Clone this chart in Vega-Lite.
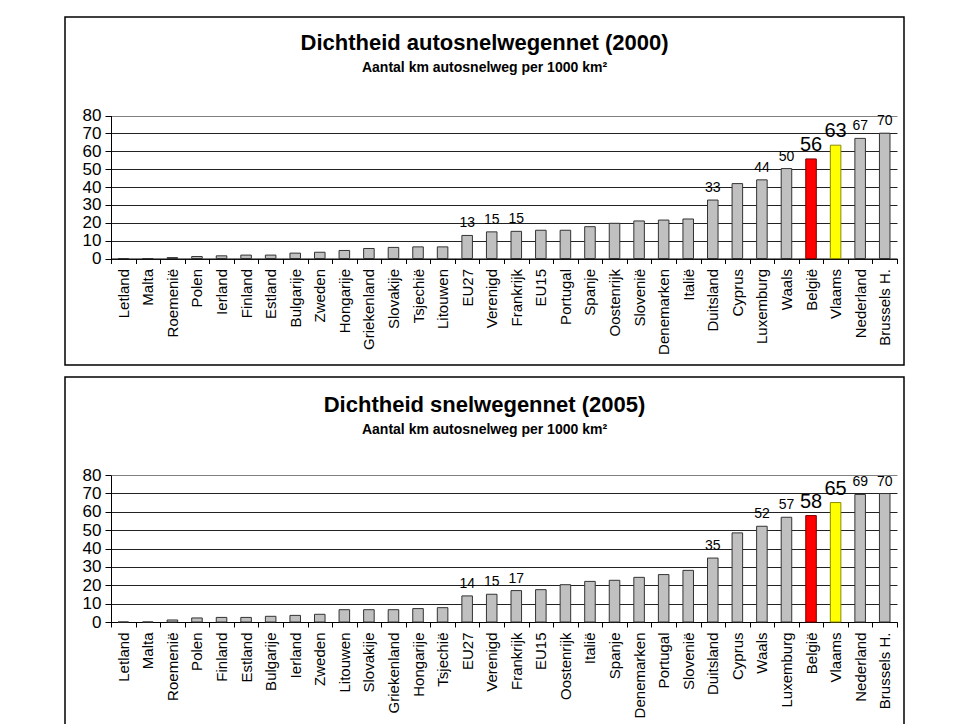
{
  "$schema": "https://vega.github.io/schema/vega-lite/v6.json",
  "padding": {"left": 57, "top": 16, "right": 58, "bottom": 0},
  "background": "white",
  "spacing": 10,
  "config": {
    "font": "Liberation Sans",
    "view": {"stroke": "#000", "strokeWidth": 1.5},
    "axis": {"labelColor": "#000", "domainColor": "#000", "tickColor": "#000", "title": null, "labelOverlap": false},
    "title": {"color": "#000", "subtitleColor": "#000", "fontWeight": "bold", "subtitleFontWeight": "bold", "fontSize": 22, "subtitleFontSize": 14, "anchor": "middle", "frame": "group", "subtitlePadding": 6}
  },
  "datasets": {
    "d2000": [
      {"land": "Letland", "waarde": 0, "annotated": false},
      {"land": "Malta", "waarde": 0, "annotated": false},
      {"land": "Roemenië", "waarde": 0.5, "annotated": false},
      {"land": "Polen", "waarde": 1.1, "annotated": false},
      {"land": "Ierland", "waarde": 1.5, "annotated": false},
      {"land": "Finland", "waarde": 1.9, "annotated": false},
      {"land": "Estland", "waarde": 1.9, "annotated": false},
      {"land": "Bulgarije", "waarde": 3.0, "annotated": false},
      {"land": "Zweden", "waarde": 3.5, "annotated": false},
      {"land": "Hongarije", "waarde": 4.5, "annotated": false},
      {"land": "Griekenland", "waarde": 5.6, "annotated": false},
      {"land": "Slovakije", "waarde": 6.2, "annotated": false},
      {"land": "Tsjechië", "waarde": 6.5, "annotated": false},
      {"land": "Litouwen", "waarde": 6.5, "annotated": false},
      {"land": "EU27", "waarde": 12.9, "annotated": true},
      {"land": "Verenigd", "waarde": 14.9, "annotated": true},
      {"land": "Frankrijk", "waarde": 15.2, "annotated": true},
      {"land": "EU15", "waarde": 15.8, "annotated": false},
      {"land": "Portugal", "waarde": 15.8, "annotated": false},
      {"land": "Spanje", "waarde": 17.8, "annotated": false},
      {"land": "Oostenrijk", "waarde": 19.7, "annotated": false},
      {"land": "Slovenië", "waarde": 21.0, "annotated": false},
      {"land": "Denemarken", "waarde": 21.5, "annotated": false},
      {"land": "Italië", "waarde": 22.1, "annotated": false},
      {"land": "Duitsland", "waarde": 32.7, "annotated": true},
      {"land": "Cyprus", "waarde": 41.9, "annotated": false},
      {"land": "Luxemburg", "waarde": 44.0, "annotated": true},
      {"land": "Waals", "waarde": 50.3, "annotated": true},
      {"land": "België", "waarde": 55.7, "annotated": true},
      {"land": "Vlaams", "waarde": 63.4, "annotated": true},
      {"land": "Nederland", "waarde": 67.2, "annotated": true},
      {"land": "Brussels H.", "waarde": 70.1, "annotated": true}
    ],
    "d2005": [
      {"land": "Letland", "waarde": 0, "annotated": false},
      {"land": "Malta", "waarde": 0, "annotated": false},
      {"land": "Roemenië", "waarde": 1.1, "annotated": false},
      {"land": "Polen", "waarde": 2.2, "annotated": false},
      {"land": "Finland", "waarde": 2.5, "annotated": false},
      {"land": "Estland", "waarde": 2.5, "annotated": false},
      {"land": "Bulgarije", "waarde": 3.1, "annotated": false},
      {"land": "Ierland", "waarde": 3.6, "annotated": false},
      {"land": "Zweden", "waarde": 4.2, "annotated": false},
      {"land": "Litouwen", "waarde": 6.7, "annotated": false},
      {"land": "Slovakije", "waarde": 6.7, "annotated": false},
      {"land": "Griekenland", "waarde": 6.7, "annotated": false},
      {"land": "Hongarije", "waarde": 7.3, "annotated": false},
      {"land": "Tsjechië", "waarde": 7.8, "annotated": false},
      {"land": "EU27", "waarde": 14.2, "annotated": true},
      {"land": "Verenigd", "waarde": 15.1, "annotated": true},
      {"land": "Frankrijk", "waarde": 17.1, "annotated": true},
      {"land": "EU15", "waarde": 17.6, "annotated": false},
      {"land": "Oostenrijk", "waarde": 20.3, "annotated": false},
      {"land": "Italië", "waarde": 22.1, "annotated": false},
      {"land": "Spanje", "waarde": 22.7, "annotated": false},
      {"land": "Denemarken", "waarde": 24.3, "annotated": false},
      {"land": "Portugal", "waarde": 25.8, "annotated": false},
      {"land": "Slovenië", "waarde": 28.1, "annotated": false},
      {"land": "Duitsland", "waarde": 34.8, "annotated": true},
      {"land": "Cyprus", "waarde": 48.5, "annotated": false},
      {"land": "Waals", "waarde": 52.1, "annotated": true},
      {"land": "Luxemburg", "waarde": 57.0, "annotated": true},
      {"land": "België", "waarde": 57.9, "annotated": true},
      {"land": "Vlaams", "waarde": 65.0, "annotated": true},
      {"land": "Nederland", "waarde": 69.4, "annotated": true},
      {"land": "Brussels H.", "waarde": 69.9, "annotated": true}
    ]
  },
  "vconcat": [
    {
      "width": 839,
      "height": 348,
      "title": {"text": "Dichtheid autosnelwegennet (2000)", "subtitle": "Aantal km autosnelweg per 1000 km²", "offset": -59},
      "data": {"name": "d2000"},
      "encoding": {
        "x": {"field": "land", "type": "nominal", "sort": null,
          "scale": {"range": [46, 832], "paddingInner": 0, "paddingOuter": 0},
          "axis": {"orient": "bottom", "offset": -106.5, "labelAngle": 270, "labelFontSize": 15, "labelPadding": 5, "tickSize": 5, "tickBand": "extent", "labelLimit": 0, "grid": false}},
        "y": {"field": "waarde", "type": "quantitative",
          "scale": {"domain": [0, 80], "range": [241.5, 98.5]},
          "axis": {"orient": "left", "offset": -46, "values": [0, 10, 20, 30, 40, 50, 60, 70, 80], "labelFontSize": 17, "labelPadding": 4, "tickSize": 6, "grid": true, "gridOpacity": 1, "gridColor": {"condition": {"test": "datum.value === 80", "value": "#808080"}, "value": "#222"}}}
      },
      "layer": [
        {
          "mark": {"type": "bar", "width": {"band": 0.43}, "strokeWidth": 1},
          "encoding": {
            "fill": {"condition": [{"test": "datum.land === 'België'", "value": "#ff0000"}, {"test": "datum.land === 'Vlaams'", "value": "#ffff00"}], "value": "#c0c0c0"},
            "stroke": {"condition": [{"test": "datum.land === 'België'", "value": "#7a0000"}, {"test": "datum.land === 'Vlaams'", "value": "#8a8a00"}], "value": "#333"}
          }
        },
        {
          "transform": [{"filter": "datum.annotated"}],
          "mark": {"type": "text", "baseline": "alphabetic", "dy": -8, "color": "#000"},
          "encoding": {
            "text": {"field": "waarde", "type": "quantitative", "format": ".0f"},
            "size": {"condition": {"test": "datum.land === 'België' || datum.land === 'Vlaams'", "value": 20}, "value": 14}
          }
        },
        {
          "data": {"values": [{"land": "Brussels H."}]},
          "mark": {"type": "rule", "color": "#808080"},
          "encoding": {
            "x": {"field": "land", "type": "nominal", "bandPosition": 1},
            "y": {"datum": 0},
            "y2": {"datum": 80}
          }
        }
      ]
    },
    {
      "width": 839,
      "height": 352,
      "title": {"text": "Dichtheid snelwegennet (2005)", "subtitle": "Aantal km autosnelweg per 1000 km²", "offset": -61},
      "data": {"name": "d2005"},
      "encoding": {
        "x": {"field": "land", "type": "nominal", "sort": null,
          "scale": {"range": [46, 832], "paddingInner": 0, "paddingOuter": 0},
          "axis": {"orient": "bottom", "offset": -107, "labelAngle": 270, "labelFontSize": 15, "labelPadding": 5, "tickSize": 5, "tickBand": "extent", "labelLimit": 0, "grid": false}},
        "y": {"field": "waarde", "type": "quantitative",
          "scale": {"domain": [0, 80], "range": [245, 98]},
          "axis": {"orient": "left", "offset": -46, "values": [0, 10, 20, 30, 40, 50, 60, 70, 80], "labelFontSize": 17, "labelPadding": 4, "tickSize": 6, "grid": true, "gridOpacity": 1, "gridColor": {"condition": {"test": "datum.value === 80", "value": "#808080"}, "value": "#222"}}}
      },
      "layer": [
        {
          "mark": {"type": "bar", "width": {"band": 0.43}, "strokeWidth": 1},
          "encoding": {
            "fill": {"condition": [{"test": "datum.land === 'België'", "value": "#ff0000"}, {"test": "datum.land === 'Vlaams'", "value": "#ffff00"}], "value": "#c0c0c0"},
            "stroke": {"condition": [{"test": "datum.land === 'België'", "value": "#7a0000"}, {"test": "datum.land === 'Vlaams'", "value": "#8a8a00"}], "value": "#333"}
          }
        },
        {
          "transform": [{"filter": "datum.annotated"}],
          "mark": {"type": "text", "baseline": "alphabetic", "dy": -8, "color": "#000"},
          "encoding": {
            "text": {"field": "waarde", "type": "quantitative", "format": ".0f"},
            "size": {"condition": {"test": "datum.land === 'België' || datum.land === 'Vlaams'", "value": 20}, "value": 14}
          }
        },
        {
          "data": {"values": [{"land": "Brussels H."}]},
          "mark": {"type": "rule", "color": "#808080"},
          "encoding": {
            "x": {"field": "land", "type": "nominal", "bandPosition": 1},
            "y": {"datum": 0},
            "y2": {"datum": 80}
          }
        }
      ]
    }
  ]
}
